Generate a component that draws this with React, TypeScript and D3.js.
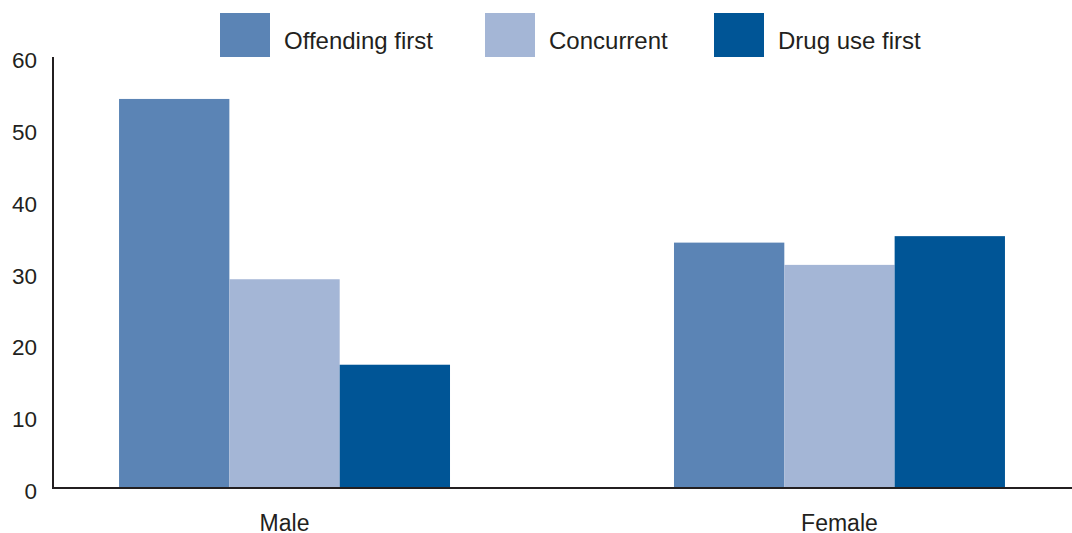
import React from "react";
import * as d3 from "d3";

const categories = ["Male", "Female"];
const seriesNames = ["Offending first", "Concurrent", "Drug use first"];
const offendingFirst = [54.3, 34.3];
const concurrent = [29.2, 31.2];
const drugUseFirst = [17.3, 35.2];
const yTicks = [0, 10, 20, 30, 40, 50, 60];
const colors = ["#5b84b5", "#a4b6d6", "#005596"];

const W = 1072;
const H = 533;
const textColor = "#231f20";
const font = "'Liberation Sans', Arial, Helvetica, sans-serif";

export default function App() {
  const seriesValues = [offendingFirst, concurrent, drugUseFirst];
  const x = d3.scaleBand<string>().domain(categories).range([53, 1071]).paddingInner(0.4036).paddingOuter(0.119);
  const xs = d3.scaleBand<string>().domain(seriesNames).range([0, x.bandwidth()]).padding(0);
  const y = d3.scaleLinear().domain([0, 60]).range([489, 58]);

  const legendX = [220, 485, 714];

  return (
    <svg width={W} height={H} style={{ position: "absolute", left: 0, top: 0, background: "#fff" }} fontFamily={font}>
      {/* bars */}
      {categories.map((c, ci) => (
        <g key={c} transform={`translate(${x(c)},0)`}>
          {seriesNames.map((s, si) => {
            const v = seriesValues[si][ci];
            return (
              <rect
                key={s}
                x={xs(s)}
                y={y(v)}
                width={xs.bandwidth()}
                height={y(0) - y(v)}
                fill={colors[si]}
              />
            );
          })}
        </g>
      ))}
      {/* axes */}
      <line x1={53} x2={53} y1={y(60) - 1} y2={y(0)} stroke={textColor} strokeWidth={2} />
      <line x1={52} x2={1072} y1={y(0) - 1} y2={y(0) - 1} stroke={textColor} strokeWidth={2} />
      {yTicks.map((t) => (
        <text key={t} x={37} y={y(t) + 10} textAnchor="end" fontSize={22.5} fill={textColor}>
          {t}
        </text>
      ))}
      {categories.map((c) => (
        <text key={c} x={(x(c) as number) + x.bandwidth() / 2} y={531} textAnchor="middle" fontSize={23} fill={textColor}>
          {c}
        </text>
      ))}
      {/* legend */}
      {seriesNames.map((s, si) => (
        <g key={s}>
          <rect x={legendX[si]} y={13} width={50} height={44} fill={colors[si]} />
          <text x={legendX[si] + 64} y={49} fontSize={24} fill={textColor}>
            {s}
          </text>
        </g>
      ))}
    </svg>
  );
}
